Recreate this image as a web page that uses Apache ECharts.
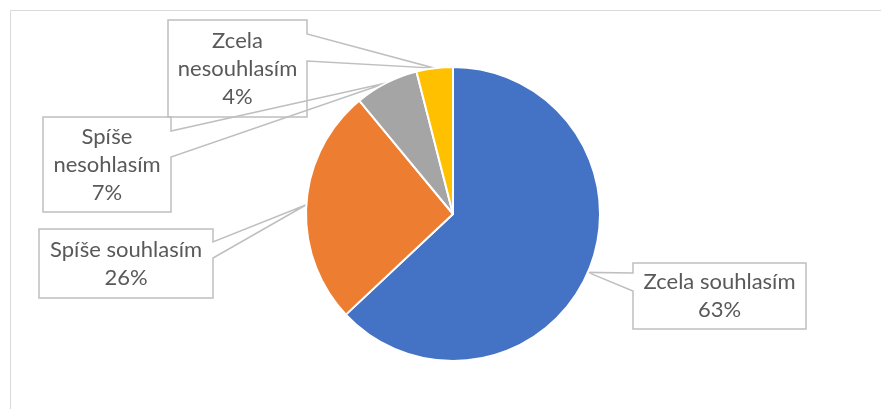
<!DOCTYPE html>
<html>
<head>
<meta charset="utf-8">
<script src="https://cdn.jsdelivr.net/npm/echarts@6/dist/echarts.min.js"></script>
<style>
  html, body { margin: 0; padding: 0; background: #fff; }
  #chart { width: 881px; height: 409px; }
</style>
</head>
<body>
<div id="chart"></div>
<script>
// ---- data ----
const categories = ['Zcela souhlasím', 'Spíše souhlasím', 'Spíše nesohlasím', 'Zcela nesouhlasím'];
const values = [63, 26, 7, 4];
const colors = ['#4472C4', '#ED7D31', '#A5A5A5', '#FFC000'];

// ---- layout of the callout boxes (x, y, w, h, wedge side, wedge start/end on that side) ----
const calloutBoxes = [
  { x: 633, y: 263, w: 173, h: 66, side: 'left',  a: 273, b: 291, wrap: false },
  { x: 39,  y: 229, w: 174, h: 69, side: 'right', a: 242, b: 258, wrap: false },
  { x: 43,  y: 117, w: 128, h: 95, side: 'right', a: 131, b: 157, wrap: true },
  { x: 168, y: 20,  w: 139, h: 97, side: 'right', a: 34,  b: 61,  wrap: true }
];

function outline(box, tip) {
  const x0 = box.x, y0 = box.y, x1 = box.x + box.w, y1 = box.y + box.h;
  const mx = (x0 + x1) / 2;
  if (box.side === 'right') {
    return [[mx, y0], [x1, y0], [x1, box.a], tip, [x1, box.b], [x1, y1], [x0, y1], [x0, y0], [mx, y0]];
  }
  return [[mx, y0], [x1, y0], [x1, y1], [x0, y1], [x0, box.b], tip, [x0, box.a], [x0, y0], [mx, y0]];
}

const chart = echarts.init(document.getElementById('chart'), null, { renderer: 'canvas' });

chart.setOption({
  animation: false,
  backgroundColor: '#ffffff',
  graphic: [{
    type: 'rect',
    shape: { x: 10.5, y: 10.5, width: 900, height: 500 },
    style: { fill: 'none', stroke: '#D9D9D9', lineWidth: 1 },
    silent: true,
    z: 0
  }],
  series: [{
    type: 'pie',
    center: [453, 214],
    radius: 147,
    startAngle: 90,
    clockwise: true,
    avoidLabelOverlap: false,
    itemStyle: { borderColor: '#ffffff', borderWidth: 2 },
    label: {
      show: true,
      position: 'outside',
      fontFamily: 'Lato',
      fontSize: 22,
      lineHeight: 28,
      color: '#595959',
      align: 'center',
      formatter: function (p) {
        const box = calloutBoxes[p.dataIndex];
        const name = box.wrap ? p.name.replace(' ', '\n') : p.name;
        return name + '\n' + Math.round(p.percent) + '%';
      }
    },
    labelLine: {
      show: true,
      length: 10,
      length2: 10,
      lineStyle: { color: '#BFBFBF', width: 1.5, join: 'miter' }
    },
    labelLayout: function (params) {
      const box = calloutBoxes[params.dataIndex];
      const tip = params.labelLinePoints ? params.labelLinePoints[0] : [box.x, box.y];
      return {
        x: box.x + box.w / 2,
        y: box.y + box.h / 2,
        align: 'center',
        verticalAlign: 'middle',
        labelLinePoints: outline(box, tip)
      };
    },
    emphasis: { disabled: true },
    data: categories.map(function (c, i) {
      return { name: c, value: values[i], itemStyle: { color: colors[i] } };
    })
  }]
});
</script>
</body>
</html>
